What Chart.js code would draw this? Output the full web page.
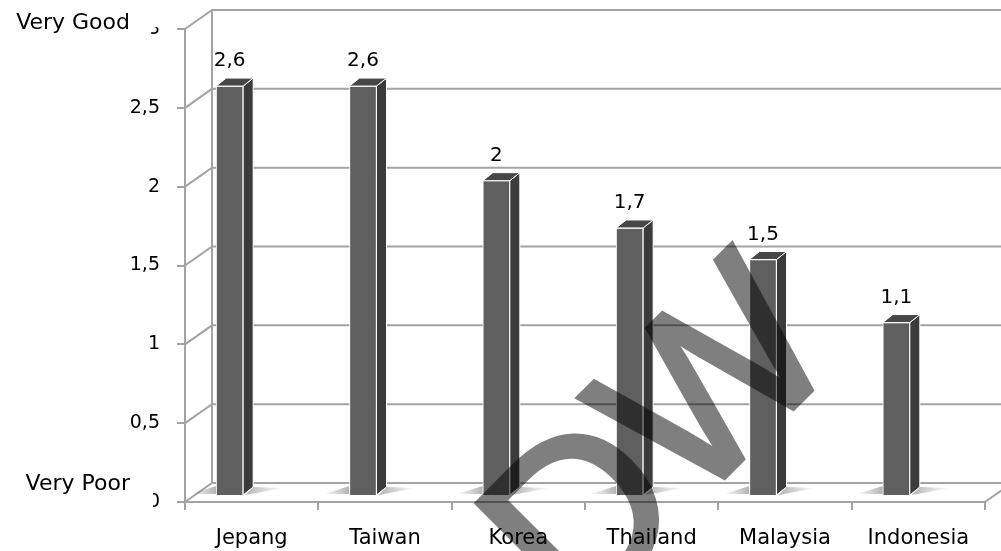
<!DOCTYPE html>
<html>
<head>
<meta charset="utf-8">
<script src="https://cdn.jsdelivr.net/npm/chart.js@4.4.1/dist/chart.umd.min.js"></script>
<style>
  html, body { margin: 0; padding: 0; background: #fff; }
  canvas { display: block; }
</style>
</head>
<body>
<canvas id="ratingChart" width="1001" height="551"></canvas>
<script>
// chart data
const categories = ['Jepang', 'Taiwan', 'Korea', 'Thailand', 'Malaysia', 'Indonesia'];
const scores = [2.6, 2.6, 2, 1.7, 1.5, 1.1];
const yTicks = [0, 0.5, 1, 1.5, 2, 2.5, 3];
const topLabel = 'Very Good';
const bottomLabel = 'Very Poor';

const lineGray = '#a3a3a3';
const wallDX = 27, wallDY = -19;   // back wall offset
const barDX = -22, barDY = -6;     // bar position inside the box
const sideDX = 10, sideDY = -8;    // bar depth

function fmt(v) {
    return String(v).replace('.', ',');
}

const boxPlugin = {
    id: 'box3d',
    beforeDatasetsDraw(chart) {
        const ctx = chart.ctx;
        const xs = chart.scales.x, ys = chart.scales.y;
        ctx.save();
        ctx.strokeStyle = lineGray;
        ctx.lineWidth = 2;
        // back wall grid + left wall diagonals
        yTicks.forEach(v => {
            const yy = ys.getPixelForValue(v);
            ctx.beginPath();
            ctx.moveTo(xs.left, yy);
            ctx.lineTo(xs.left + wallDX, yy + wallDY);
            ctx.lineTo(chart.width, yy + wallDY);
            ctx.stroke();
        });
        ctx.beginPath();
        ctx.moveTo(xs.left + wallDX, ys.top + wallDY);
        ctx.lineTo(xs.left + wallDX, ys.bottom + wallDY);
        ctx.moveTo(xs.right, ys.bottom);
        ctx.lineTo(xs.right + wallDX, ys.bottom + wallDY);
        ctx.stroke();

        // soft floor shadows round each bar foot
        const meta = chart.getDatasetMeta(0);
        meta.data.forEach(bar => {
            const L = bar.x + barDX - bar.width / 2;
            const R = L + bar.width;
            const B = bar.base + barDY;
            let g = ctx.createLinearGradient(L - 26, 0, L, 0);
            g.addColorStop(0, 'rgba(0,0,0,0)');
            g.addColorStop(1, 'rgba(0,0,0,0.3)');
            ctx.fillStyle = g;
            ctx.beginPath();
            ctx.moveTo(L - 26, B - 1);
            ctx.lineTo(L, B - 1);
            ctx.lineTo(L, B - 9);
            ctx.closePath();
            ctx.fill();
            g = ctx.createLinearGradient(R + 2, 0, R + sideDX + 30, 0);
            g.addColorStop(0, 'rgba(0,0,0,0.3)');
            g.addColorStop(1, 'rgba(0,0,0,0)');
            ctx.fillStyle = g;
            ctx.beginPath();
            ctx.moveTo(R + 2, B);
            ctx.lineTo(R + sideDX + 30, B - 7);
            ctx.lineTo(R + sideDX, B - 8);
            ctx.closePath();
            ctx.fill();
        });
        ctx.restore();

        // front faces are drawn by Chart.js, moved into the box
        ctx.save();
        ctx.translate(barDX, barDY);
    },
    afterDatasetsDraw(chart) {
        const ctx = chart.ctx;
        ctx.restore();
        ctx.save();
        const meta = chart.getDatasetMeta(0);
        ctx.lineWidth = 1;
        ctx.strokeStyle = '#ffffff';
        meta.data.forEach((bar, i) => {
            const L = bar.x + barDX - bar.width / 2;
            const R = L + bar.width;
            const T = bar.y + barDY;
            const B = bar.base + barDY;
            // side face
            ctx.fillStyle = '#3b3b3b';
            ctx.beginPath();
            ctx.moveTo(R, T);
            ctx.lineTo(R + sideDX, T + sideDY);
            ctx.lineTo(R + sideDX, B + sideDY);
            ctx.lineTo(R, B);
            ctx.closePath();
            ctx.fill();
            ctx.stroke();
            // top cap
            ctx.fillStyle = '#474747';
            ctx.beginPath();
            ctx.moveTo(L, T);
            ctx.lineTo(R, T);
            ctx.lineTo(R + sideDX, T + sideDY);
            ctx.lineTo(L + sideDX, T + sideDY);
            ctx.closePath();
            ctx.fill();
            ctx.stroke();
            // value label
            ctx.fillStyle = '#000';
            ctx.font = '20px "DejaVu Sans"';
            ctx.textAlign = 'center';
            ctx.textBaseline = 'middle';
            ctx.fillText(fmt(scores[i]), bar.x + barDX, bar.y - 31);
        });
        ctx.restore();
    },
    afterDraw(chart) {
        const ctx = chart.ctx;
        ctx.save();
        // text boxes of the two axis captions hide part of the end ticks
        ctx.fillStyle = '#fff';
        ctx.fillRect(0, 0, 151, 40);
        ctx.fillRect(0, 0, 170, 27);
        ctx.fillRect(0, 462, 153, 60);
        ctx.fillStyle = '#000';
        ctx.font = '22px "DejaVu Sans"';
        ctx.textAlign = 'right';
        ctx.textBaseline = 'alphabetic';
        ctx.fillText(topLabel, 130, 29);
        ctx.fillText(bottomLabel, 130, 490);
        ctx.restore();

        // watermark: solid letters on a side canvas, laid on at half opacity
        const off = document.createElement('canvas');
        off.width = chart.width;
        off.height = chart.height;
        const o = off.getContext('2d');
        o.translate(578, 628);
        o.rotate(-Math.PI / 4);
        o.fillStyle = '#000';
        o.strokeStyle = '#000';
        o.lineWidth = 5;
        o.lineJoin = 'miter';
        o.font = '232px "Liberation Sans"';
        o.fillText('D', -2, 0);
        o.strokeText('D', -2, 0);
        o.fillText('W', 162, -3);
        o.strokeText('W', 162, -3);
        ctx.save();
        ctx.globalAlpha = 0.5;
        ctx.drawImage(off, 0, 0);
        ctx.restore();
    }
};

Chart.defaults.font.family = '"DejaVu Sans"';
Chart.defaults.color = '#000';

new Chart(document.getElementById('ratingChart'), {
    type: 'bar',
    data: {
        labels: categories,
        datasets: [{
            data: scores,
            backgroundColor: '#5f5f5f',
            borderColor: '#ffffff',
            borderWidth: 1,
            barThickness: 27
        }]
    },
    options: {
        responsive: false,
        animation: false,
        devicePixelRatio: 1,
        layout: { padding: { left: 0, top: 29, right: 16, bottom: 0 } },
        plugins: {
            legend: { display: false },
            tooltip: { enabled: false }
        },
        scales: {
            x: {
                grid: { drawOnChartArea: false, drawTicks: true, tickLength: 8, color: lineGray, lineWidth: 2 },
                border: { display: true, color: lineGray, width: 2 },
                ticks: { font: { size: 21 }, padding: 16, maxRotation: 0 },
                afterFit: s => { s.height = 49; }
            },
            y: {
                min: 0,
                max: 3,
                afterBuildTicks: s => { s.ticks = yTicks.map(v => ({ value: v })); },
                grid: { drawOnChartArea: false, drawTicks: true, tickLength: 8, color: lineGray, lineWidth: 2 },
                border: { display: true, color: lineGray, width: 2 },
                ticks: { font: { size: 19 }, padding: 17, callback: v => fmt(v) },
                afterFit: s => { s.width = 185; }
            }
        }
    },
    plugins: [boxPlugin]
});
</script>
</body>
</html>
